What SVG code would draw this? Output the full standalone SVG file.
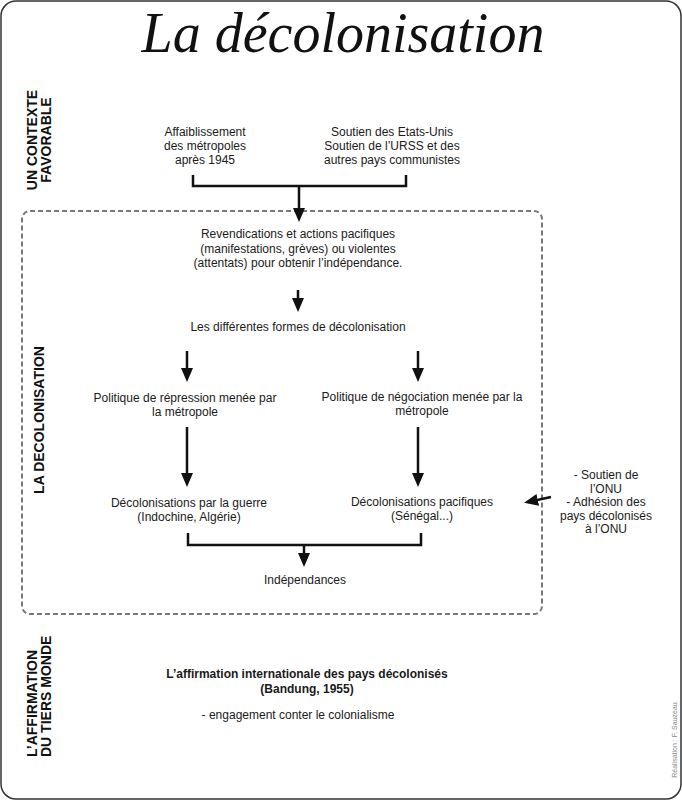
<svg xmlns="http://www.w3.org/2000/svg" width="682" height="800" viewBox="0 0 682 800">
<style>
.t{font-family:"Liberation Sans",Arial,sans-serif;font-size:12px;fill:#1a1a1a;text-anchor:middle}
.b{font-weight:bold}
.side{font-family:"Liberation Sans",Arial,sans-serif;font-size:14px;font-weight:bold;fill:#111}
.ln{fill:none;stroke:#111;stroke-width:2.5}
</style>
<defs>
<marker id="ah" markerUnits="userSpaceOnUse" markerWidth="14" markerHeight="12" viewBox="0 0 14 12" refX="10" refY="6" orient="auto">
<path d="M0,0 L14,6 L0,12 Z" fill="#111"/>
</marker>
</defs>
<rect x="1" y="1" width="680" height="798" rx="15" fill="#fff" stroke="#333" stroke-width="1.5"/>
<text x="343" y="52" font-family="Liberation Serif,serif" font-style="italic" font-size="56" text-anchor="middle" fill="#111">La décolonisation</text>

<g id="labels">
<text class="side" transform="translate(37,140) rotate(-90)" text-anchor="middle">UN CONTEXTE</text>
<text class="side" transform="translate(51,140) rotate(-90)" text-anchor="middle">FAVORABLE</text>
<text class="side" transform="translate(44,420) rotate(-90)" text-anchor="middle">LA DECOLONISATION</text>
<text class="side" transform="translate(37,757) rotate(-90)">L’AFFIRMATION</text>
<text class="side" transform="translate(51,757) rotate(-90)">DU TIERS MONDE</text>
<text transform="translate(677,740) rotate(-90)" font-family="Liberation Sans,Arial,sans-serif" font-size="7" fill="#888" text-anchor="middle">Réalisation : F. Sauzeau</text>
</g>

<g id="frame-decolonisation">
<rect x="22" y="211" width="520" height="403" rx="8" fill="none" stroke="#777" stroke-width="2" stroke-dasharray="5 3"/>
</g>

<g id="n-affaiblissement">
<text class="t" x="205" y="136">Affaiblissement</text>
<text class="t" x="205" y="150">des métropoles</text>
<text class="t" x="205" y="164">après 1945</text>
</g>
<g id="n-soutien">
<text class="t" x="392" y="136">Soutien des Etats-Unis</text>
<text class="t" x="392" y="150">Soutien de l’URSS et des</text>
<text class="t" x="392" y="164">autres pays communistes</text>
</g>
<g id="n-revendications">
<text class="t" x="298" y="238">Revendications et actions pacifiques</text>
<text class="t" x="298" y="252.5">(manifestations, grèves) ou violentes</text>
<text class="t" x="298" y="267">(attentats) pour obtenir l’indépendance.</text>
</g>
<g id="n-formes">
<text class="t" x="298" y="331">Les différentes formes de décolonisation</text>
</g>
<g id="n-repression">
<text class="t" x="185" y="402">Politique de répression menée par</text>
<text class="t" x="185" y="416">la métropole</text>
</g>
<g id="n-negociation">
<text class="t" x="422" y="401">Politique de négociation menée par la</text>
<text class="t" x="422" y="415">métropole</text>
</g>
<g id="n-guerre">
<text class="t" x="189" y="507">Décolonisations par la guerre</text>
<text class="t" x="189" y="521">(Indochine, Algérie)</text>
</g>
<g id="n-pacifiques">
<text class="t" x="422" y="506">Décolonisations pacifiques</text>
<text class="t" x="422" y="520">(Sénégal...)</text>
</g>
<g id="n-independances">
<text class="t" x="305" y="584">Indépendances</text>
</g>
<g id="n-onu">
<text class="t" x="606" y="479">- Soutien de</text>
<text class="t" x="606" y="492.5">l’ONU</text>
<text class="t" x="606" y="506">- Adhésion des</text>
<text class="t" x="606" y="519.5">pays décolonisés</text>
<text class="t" x="606" y="533">à l’ONU</text>
</g>
<g id="n-bandung">
<text class="t b" x="307" y="678">L’affirmation internationale des pays décolonisés</text>
<text class="t b" x="307" y="693">(Bandung, 1955)</text>
<text class="t" x="298" y="719">- engagement conter le colonialisme</text>
</g>

<g id="connectors">
<path class="ln" d="M193,175 V186 H406 V175"/>
<path class="ln" d="M299,186 V218" marker-end="url(#ah)"/>
<path class="ln" d="M298,290 V308" marker-end="url(#ah)"/>
<path class="ln" d="M187,351 V378" marker-end="url(#ah)"/>
<path class="ln" d="M418,351 V378" marker-end="url(#ah)"/>
<path class="ln" d="M187,427 V483" marker-end="url(#ah)"/>
<path class="ln" d="M418,427 V483" marker-end="url(#ah)"/>
<path class="ln" d="M188,533 V545 H421 V533"/>
<path class="ln" d="M304,545 V563" marker-end="url(#ah)"/>
<path class="ln" d="M551,497 L528,502" marker-end="url(#ah)"/>
</g>
</svg>
